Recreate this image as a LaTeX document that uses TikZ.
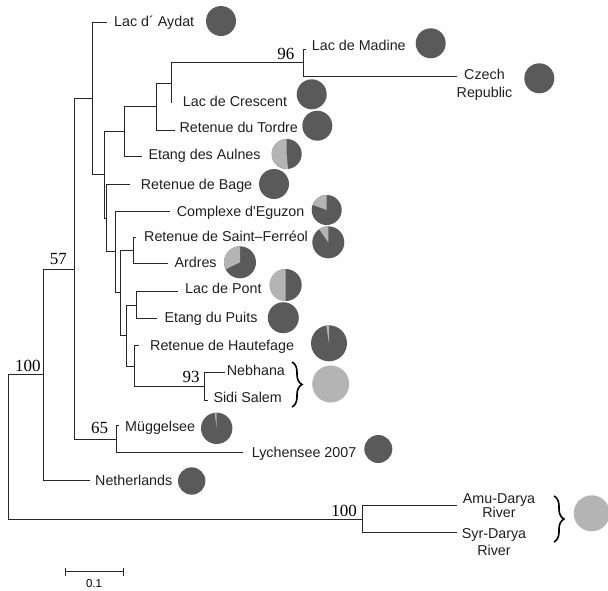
\documentclass[tikz,border=0pt]{standalone}
\usepackage{fontspec}
\setmainfont{Liberation Sans}
\newfontfamily\bootfont{Liberation Serif}
\usetikzlibrary{decorations.pathreplacing}
\definecolor{piedark}{HTML}{5A5A5A}
\definecolor{pielight}{HTML}{B4B4B4}
\def\piechart(#1)(#2:#3){\ifdim#3pt<450pt \fill[piedark] (#1) circle (#2pt);\fi \ifdim#3pt>90pt \fill[pielight] (#1) -- ++(90:#2pt) arc (90:#3:#2pt) -- cycle;\fi}

\begin{document}
\begin{tikzpicture}[x=1pt, y=-1pt,
		branch/.style={line width=0.8pt, color=black!85},
		taxon/.style={anchor=west, inner sep=0pt, text height=10.2pt, text depth=0pt, font=\fontsize{14.3}{17}\selectfont, color=black!88},
		pair/.style={align=center, inner sep=0pt, font=\fontsize{14.3}{#1}\selectfont, color=black!88},
		boot/.style={inner sep=0pt, text height=11.5pt, text depth=0pt, font=\bootfont\fontsize{17}{20}\selectfont},
		clade/.style={decorate, decoration={brace, amplitude=10pt}, line width=1.6pt}]
			%%%%% START %%%%%
			\useasboundingbox (0,0) rectangle (608,590);
			
			% inner nodes of the tree
			\coordinate (root) at (8.3, 446.5);
			\coordinate (n100) at (43.3, 374.5);
			\coordinate (n57) at (74, 269);
			\coordinate (n65) at (116.3, 439);
			\coordinate (nA) at (92.7, 98.7);
			\coordinate (nB) at (104.3, 174.3);
			\coordinate (nC) at (124.3, 131.3);
			\coordinate (nE) at (156.7, 106.5);
			\coordinate (nF) at (171.7, 83);
			\coordinate (n96) at (303.3, 62.5);
			\coordinate (nD) at (106.7, 217.9);
			\coordinate (nH) at (115, 251.7);
			\coordinate (nI) at (120, 292.5);
			\coordinate (nJ) at (133.3, 250.5);
			\coordinate (nK) at (126.7, 335.5);
			\coordinate (nL) at (136, 305);
			\coordinate (nM) at (134.3, 366);
			\coordinate (n93) at (204, 386);
			\coordinate (nAmu) at (362.3, 519);
			
			% ends of the tips
			\coordinate (tAydat) at (107, 22.7);
			\coordinate (tMadine) at (305.5, 49.3);
			\coordinate (tCzech) at (456.7, 76);
			\coordinate (tCrescent) at (171.7, 103.3);
			\coordinate (tTordre) at (175, 130);
			\coordinate (tAulnes) at (141.7, 156);
			\coordinate (tBage) at (130, 184);
			\coordinate (tEguzon) at (170, 211.5);
			\coordinate (tFerreol) at (136, 237.7);
			\coordinate (tArdres) at (168, 263.3);
			\coordinate (tPont) at (178.3, 291.5);
			\coordinate (tPuits) at (156.7, 318.5);
			\coordinate (tHautefage) at (138.5, 345.5);
			\coordinate (tNebhana) at (225, 372);
			\coordinate (tSidi) at (208, 400);
			\coordinate (tMuggel) at (118.5, 425.7);
			\coordinate (tLychen) at (242.7, 452.3);
			\coordinate (tNether) at (90, 480);
			\coordinate (tAmu) at (457.3, 505.7);
			\coordinate (tSyr) at (457.3, 532.3);
			
			% branches
			\draw[branch] (root) |- (n100);
			\draw[branch] (root) |- (nAmu);
			\draw[branch] (n100) |- (n57);
			\draw[branch] (n100) |- (tNether);
			\draw[branch] (n57) |- (nA);
			\draw[branch] (n57) |- (n65);
			\draw[branch] (n65) |- (tMuggel);
			\draw[branch] (n65) |- (tLychen);
			\draw[branch] (nA) |- (tAydat);
			\draw[branch] (nA) |- (nB);
			\draw[branch] (nB) |- (nC);
			\draw[branch] (nB) |- (nD);
			\draw[branch] (nC) |- (nE);
			\draw[branch] (nC) |- (tAulnes);
			\draw[branch] (nE) |- (nF);
			\draw[branch] (nE) |- (tTordre);
			\draw[branch] (nF) |- (n96);
			\draw[branch] (nF) |- (tCrescent);
			\draw[branch] (n96) |- (tMadine);
			\draw[branch] (n96) |- (tCzech);
			\draw[branch] (nD) |- (tBage);
			\draw[branch] (nD) |- (nH);
			\draw[branch] (nH) |- (tEguzon);
			\draw[branch] (nH) |- (nI);
			\draw[branch] (nI) |- (nJ);
			\draw[branch] (nI) |- (nK);
			\draw[branch] (nJ) |- (tFerreol);
			\draw[branch] (nJ) |- (tArdres);
			\draw[branch] (nK) |- (nL);
			\draw[branch] (nK) |- (nM);
			\draw[branch] (nL) |- (tPont);
			\draw[branch] (nL) |- (tPuits);
			\draw[branch] (nM) |- (tHautefage);
			\draw[branch] (nM) |- (n93);
			\draw[branch] (n93) |- (tNebhana);
			\draw[branch] (n93) |- (tSidi);
			\draw[branch] (nAmu) |- (tAmu);
			\draw[branch] (nAmu) |- (tSyr);
			
			% bootstrap values
			\node[boot] (b100) at (27.8, 365.3) {100};
			\node[boot] (b57) at (58.3, 258.5) {57};
			\node[boot] (b96) at (285.8, 54) {96};
			\node[boot] (b65) at (99.5, 427.5) {65};
			\node[boot] (b93) at (191, 376.3) {93};
			\node[boot] (b100amu) at (344, 511) {100};
			
			% taxa
			\node[taxon] (aydat) at (114, 21) {Lac d´ Aydat};
			\node[taxon] (madine) at (311.7, 45.5) {Lac de Madine};
			\node[pair=18.7] (czech) at (484.5, 84.9) {Czech\\Republic};
			\node[taxon] (crescent) at (182.7, 101.5) {Lac de Crescent};
			\node[taxon] (tordre) at (179.3, 127.5) {Retenue du Tordre};
			\node[taxon] (aulnes) at (148.3, 154.7) {Etang des Aulnes};
			\node[taxon] (bage) at (140.7, 184) {Retenue de Bage};
			\node[taxon] (eguzon) at (176.7, 211.5) {Complexe d\textquotesingle Eguzon};
			\node[taxon] (ferreol) at (144, 236.7) {Retenue de Saint–Ferréol};
			\node[taxon] (ardres) at (174.3, 262.3) {Ardres};
			\node[taxon] (pont) at (185, 288) {Lac de Pont};
			\node[taxon] (puits) at (164.3, 317.5) {Etang du Puits};
			\node[taxon] (hautefage) at (150, 345.5) {Retenue de Hautefage};
			\node[taxon] (nebhana) at (226.7, 370) {Nebhana};
			\node[taxon] (sidi) at (213.3, 397.3) {Sidi Salem};
			\node[taxon] (muggel) at (125, 426.7) {Müggelsee};
			\node[taxon] (lychen) at (251.7, 452.3) {Lychensee 2007};
			\node[taxon] (nether) at (95, 480) {Netherlands};
			\node[pair=13.3] (amu) at (499, 505.7) {Amu-Darya\\River};
			\node[pair=16.7] (syr) at (494, 542.3) {Syr-Darya\\River};
			
			% braces
			\draw[clade] (292, 362) -- (292, 407);
			\draw[clade] (554, 496) -- (554, 542);
			
			% pies
			\piechart(221, 21)(15:90)
			\piechart(430.7, 43.3)(15:90)
			\piechart(539.3, 78.3)(15:90)
			\piechart(311.7, 94.3)(15:90)
			\piechart(317.3, 125.7)(15:90)
			\piechart(286.7, 154)(15:275)
			\piechart(274, 184)(15:90)
			\piechart(326.7, 210)(15:160)
			\piechart(328.3, 242.3)(16:125)
			\piechart(240, 262.3)(16:206)
			\piechart(285.7, 285)(16:270)
			\piechart(283.3, 317.7)(15.5:90)
			\piechart(329, 343.3)(18:99)
			\piechart(330.7, 384)(18.5:450)
			\piechart(216.7, 428.3)(15.7:98)
			\piechart(378.3, 449)(14:90)
			\piechart(191.7, 481)(13.7:90)
			\piechart(591.7, 513.3)(18:450)
			
			% scale bar
			\draw[branch] (65, 571.7) -- (123.3, 571.7);
			\draw[branch] (65, 567.7) -- (65, 575.7);
			\draw[branch] (123.3, 567.7) -- (123.3, 575.7);
			\node[inner sep=0pt, font=\fontsize{11.5}{13}\selectfont] (scale) at (94, 583.3) {0.1};
			
			%%%%% END %%%%%
		\end{tikzpicture}
\end{document}
